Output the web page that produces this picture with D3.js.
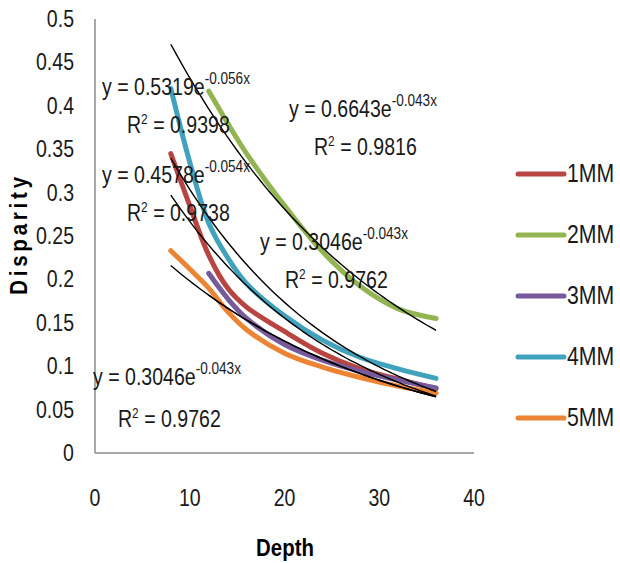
<!DOCTYPE html>
<html>
<head>
<meta charset="utf-8">
<script src="https://cdnjs.cloudflare.com/ajax/libs/d3/7.8.5/d3.min.js"></script>
<style>
body { margin: 0; background: #fff; }
svg { display: block; font-family: "Liberation Sans", Arial, sans-serif; }
</style>
</head>
<body>
<svg width="620" height="563"></svg>
<script>
// depth values and disparity per series (null = no reading)
var depth = [8, 10, 12, 14, 16, 20, 24, 28, 32, 36]
var mm1 = [0.345, 0.285, 0.228, 0.19, 0.168, 0.14, 0.115, 0.097, 0.085, 0.074]
var mm2 = [null, null, 0.417, 0.38, 0.345, 0.285, 0.232, 0.192, 0.166, 0.155]
var mm3 = [null, null, 0.207, 0.178, 0.155, 0.125, 0.107, 0.094, 0.084, 0.075]
var mm4 = [0.42, 0.335, 0.265, 0.225, 0.195, 0.158, 0.13, 0.11, 0.097, 0.086]
var mm5 = [0.233, 0.212, 0.19, 0.163, 0.142, 0.115, 0.099, 0.087, 0.077, 0.069]

var seriesNames = ["1MM", "2MM", "3MM", "4MM", "5MM"]
var seriesColors = ["#b84542", "#93b551", "#775a9c", "#40a2bc", "#ec8434"]

// exponential trendlines y = a*e^(b*x), as printed on the chart
var fitA = [0.4578, 0.6643, 0.3046, 0.5319, 0.3046]
var fitB = [-0.054, -0.043, -0.043, -0.056, -0.043]
var fitR2 = ["0.9738", "0.9816", "0.9762", "0.9398", "0.9762"]
var fitStart = [8, 8, 12, 8, 8]
var fitEnd = 36
// label anchor (x, baseline) for each trendline equation
var labelPos = [[102, 183], [289, 117], [260, 250], [102, 95], [93, 385]]

var xTicks = [0, 10, 20, 30, 40]
var yTicks = [0, 0.05, 0.1, 0.15, 0.2, 0.25, 0.3, 0.35, 0.4, 0.45, 0.5]

var svg = d3.select("svg")
var x = d3.scaleLinear().domain([0, 40]).range([95, 474])
var y = d3.scaleLinear().domain([0, 0.5]).range([453, 19])

// narrow text: the chart font is condensed, so squeeze horizontally
function label(px, py, size, anchor) {
	return svg.append("text")
		.attr("transform", `translate(${px},${py}) scale(0.85,1)`)
		.style("font-size", size + "px")
		.style("text-anchor", anchor || "start")
		.style("fill", "#1a1a1a")
}

// axes
svg.append("line").attr("x1", x(0)).attr("x2", x(0)).attr("y1", y(0.5)).attr("y2", y(0))
	.style("stroke", "#8c8c8c").style("stroke-width", 1.5)
svg.append("line").attr("x1", x(0)).attr("x2", x(40)).attr("y1", y(0)).attr("y2", y(0))
	.style("stroke", "#8c8c8c").style("stroke-width", 1.5)

yTicks.forEach(d => {
	label(74, y(d) + 8, 23, "end").text(d)
})
xTicks.forEach(d => {
	label(x(d), 506, 23, "middle").text(d)
})

svg.append("text").attr("transform", "translate(27,234) rotate(-90) scale(0.85,1)")
	.style("text-anchor", "middle").style("font-size", "24px").style("font-weight", "bold")
	.style("letter-spacing", "4.5px")
	.text("Disparity")
label(285, 556, 24, "middle").style("font-weight", "bold").style("fill", "#000").text("Depth")

// data lines
var seriesValues = [mm1, mm2, mm3, mm4, mm5]
var line = d3.line()
	.x(d => x(d[0])).y(d => y(d[1]))
	.curve(d3.curveCatmullRom.alpha(0.5))

seriesValues.forEach((vals, i) => {
	svg.append("path")
		.datum(depth.map((d, j) => [d, vals[j]]).filter(d => d[1] != null))
		.attr("d", line)
		.style("fill", "none")
		.style("stroke", seriesColors[i])
		.style("stroke-width", 5)
		.style("stroke-linecap", "round")
})

// trendlines
var fitLine = d3.line().x(d => x(d[0])).y(d => y(d[1]))
fitA.forEach((a, i) => {
	var pts = d3.range(fitStart[i], fitEnd + 0.01, 0.5).map(t => [t, a * Math.exp(fitB[i] * t)])
	svg.append("path")
		.datum(pts)
		.attr("d", fitLine)
		.style("fill", "none")
		.style("stroke", "#000")
		.style("stroke-width", 1.4)
})

// equation labels
fitA.forEach((a, i) => {
	var p = labelPos[i]
	var t = label(p[0], p[1], 23)
	t.append("tspan").text("y = " + a.toFixed(4) + "e")
	t.append("tspan").attr("dy", -11).style("font-size", "16px").text(fitB[i].toFixed(3) + "x")

	var r = label(p[0] + 25, p[1] + (i == 4 ? 42 : 38), 23)
	r.append("tspan").text("R")
	r.append("tspan").attr("dy", -9).style("font-size", "14px").text("2")
	r.append("tspan").attr("dy", 9).text(" = " + fitR2[i])
})

// legend
seriesNames.forEach((name, i) => {
	var ly = 174 + i * 61
	svg.append("line").attr("x1", 518).attr("x2", 564).attr("y1", ly).attr("y2", ly)
		.style("stroke", seriesColors[i]).style("stroke-width", 5).style("stroke-linecap", "round")
	label(567, ly + 8, 25).text(name)
})
</script>
</body>
</html>
